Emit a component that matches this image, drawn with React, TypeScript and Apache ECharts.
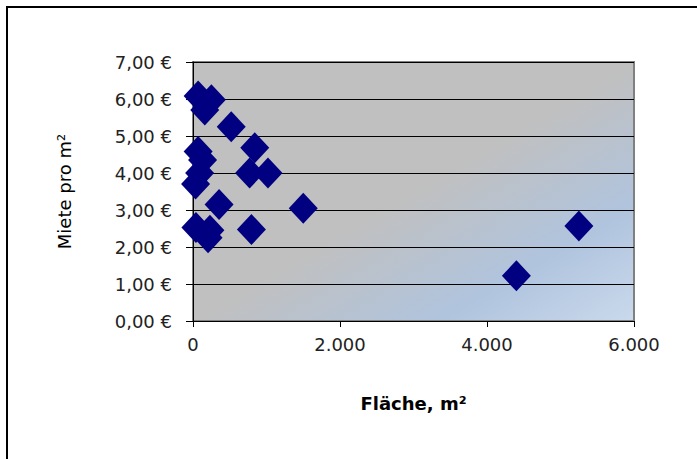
import React, { useEffect, useRef } from "react";
import * as echarts from "echarts";

const areaM2: number[] = [70, 250, 160, 520, 840, 70, 130, 770, 1020, 90, 35, 355, 1500, 795, 40, 230, 205, 5250, 4400];
const rentPerM2: number[] = [6.08, 5.98, 5.7, 5.25, 4.68, 4.58, 4.35, 4.0, 4.0, 4.0, 3.7, 3.15, 3.05, 2.47, 2.53, 2.45, 2.25, 2.57, 1.22];

const xTitle = "Fläche, m²";
const yTitle = "Miete pro m²";

export default function App() {
  const ref = useRef<HTMLDivElement>(null);
  useEffect(() => {
    document.body.style.margin = "0";
    const chart = echarts.init(ref.current!, null, { renderer: "svg" });
    const fontFamily = "DejaVu Sans";
    chart.setOption({
      animation: false,
      backgroundColor: "#ffffff",
      grid: {
        left: 193,
        top: 62,
        width: 441,
        height: 259,
        show: true,
        borderColor: "#808080",
        borderWidth: 2,
        backgroundColor: new echarts.graphic.LinearGradient(0, 0, 1, 1, [
          { offset: 0, color: "#c0c0c0" },
          { offset: 0.5, color: "#c0c0c0" },
          { offset: 0.78, color: "#b0c4de" },
          { offset: 1, color: "#cad9ec" },
        ]),
      },
      graphic: [
        { type: "line", shape: { x1: 7, y1: 7, x2: 697, y2: 7 }, style: { stroke: "#000", lineWidth: 2 } },
        { type: "line", shape: { x1: 7, y1: 6, x2: 7, y2: 459 }, style: { stroke: "#000", lineWidth: 2 } },
      ],
      xAxis: {
        type: "value",
        min: 0,
        max: 6000,
        interval: 2000,
        name: xTitle,
        nameLocation: "middle",
        nameGap: 73,
        nameTextStyle: { fontFamily, fontSize: 18, fontWeight: "bold", color: "#000" },
        axisLine: { show: true, lineStyle: { color: "#000", width: 1 } },
        axisTick: { show: true, length: 6, lineStyle: { color: "#000" } },
        splitLine: { show: false },
        axisLabel: {
          margin: 14,
          fontFamily,
          fontSize: 18,
          color: "#222",
          formatter: (v: number) => v.toString().replace(/\B(?=(\d{3})+(?!\d))/g, "."),
        },
      },
      yAxis: {
        type: "value",
        min: 0,
        max: 7,
        interval: 1,
        name: yTitle,
        nameLocation: "middle",
        nameGap: 120,
        nameTextStyle: { fontFamily, fontSize: 18, color: "#000" },
        axisLine: { show: true, lineStyle: { color: "#000", width: 1 } },
        axisTick: { show: true, length: 7, lineStyle: { color: "#000" } },
        splitLine: { show: true, lineStyle: { color: "#000", width: 1 } },
        axisLabel: {
          margin: 21,
          fontFamily,
          fontSize: 18,
          color: "#222",
          formatter: (v: number) => v.toFixed(2).replace(".", ",") + " €",
        },
      },
      series: [
        {
          type: "scatter",
          symbol: "diamond",
          symbolSize: [29, 31],
          itemStyle: { color: "#000080", opacity: 1 },
          data: areaM2.map((a, i) => [a, rentPerM2[i]]),
        },
      ],
    });
    return () => chart.dispose();
  }, []);
  return <div ref={ref} style={{ width: 697, height: 459 }} />;
}
